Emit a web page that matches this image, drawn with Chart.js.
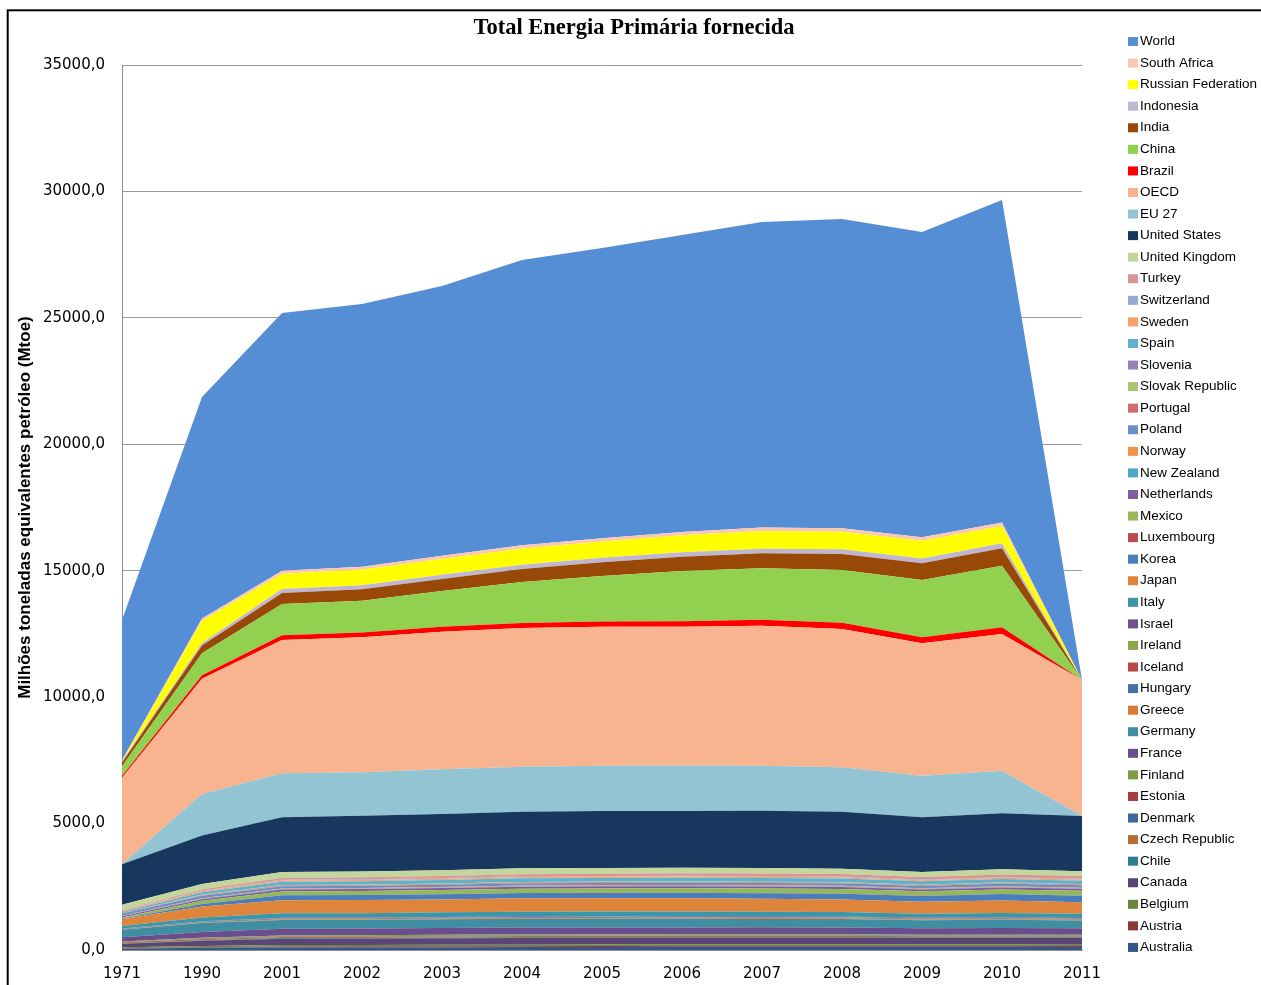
<!DOCTYPE html>
<html lang="pt">
<head>
<meta charset="utf-8">
<title>Total Energia Primária fornecida</title>
<script src="https://cdn.jsdelivr.net/npm/chart.js@4.4.1/dist/chart.umd.min.js"></script>
<style>
  html, body { margin: 0; padding: 0; background: #ffffff; }
  #wrap { width: 1261px; height: 985px; overflow: hidden; }
  canvas { display: block; }
</style>
</head>
<body>
<div id="wrap"><canvas id="chart" width="1261" height="985"></canvas></div>
<script>
// Years on the category axis
const years = ['1971', '1990', '2001', '2002', '2003', '2004', '2005', '2006', '2007', '2008', '2009', '2010', '2011'];

// Total primary energy supply, Mtoe (stacked from Australia upwards)
const australia        = [52, 87, 111, 113, 113, 116, 122, 124, 125, 128, 131, 125, 122];
const austria          = [18, 25, 31, 31, 33, 33, 34, 34, 33, 33, 32, 34, 33];
const belgium          = [39, 48, 58, 56, 59, 59, 58, 57, 57, 59, 57, 61, 57];
const canada           = [140, 209, 248, 253, 262, 269, 271, 268, 273, 267, 254, 252, 258];
const chile            = [8, 14, 25, 26, 26, 28, 29, 30, 30, 30, 29, 30, 33];
const czechRepublic    = [45, 50, 42, 42, 45, 45, 45, 46, 46, 45, 42, 44, 43];
const denmark          = [19, 18, 20, 20, 20, 20, 19, 21, 20, 19, 19, 20, 18];
const estonia          = [0, 10, 5, 5, 5, 5, 5, 5, 6, 5, 5, 6, 6];
const finland          = [17, 28, 33, 35, 37, 37, 34, 37, 37, 35, 33, 36, 34];
const france           = [162, 224, 265, 265, 270, 274, 275, 271, 268, 270, 257, 264, 253];
const germany          = [305, 351, 350, 345, 345, 348, 343, 349, 335, 336, 318, 328, 312];
const greece           = [9, 22, 29, 29, 30, 31, 31, 31, 31, 31, 29, 27, 26];
const hungary          = [19, 29, 25, 26, 26, 26, 28, 27, 27, 27, 25, 25, 24];
const iceland          = [1, 2, 3, 3, 3, 4, 4, 4, 5, 5, 5, 5, 6];
const ireland          = [7, 10, 15, 15, 15, 15, 15, 15, 16, 15, 14, 14, 13];
const israel           = [6, 11, 20, 20, 21, 20, 20, 21, 22, 23, 22, 23, 23];
const italy            = [105, 147, 172, 172, 180, 182, 185, 183, 179, 176, 165, 170, 168];
const japan            = [268, 439, 519, 518, 511, 530, 530, 527, 514, 495, 472, 497, 461];
const korea            = [17, 93, 191, 201, 205, 210, 210, 214, 222, 227, 229, 250, 260];
const luxembourg       = [4, 3, 4, 4, 4, 5, 5, 5, 4, 4, 4, 4, 4];
const mexico           = [43, 124, 149, 153, 159, 167, 174, 178, 182, 182, 177, 178, 187];
const netherlands      = [51, 66, 76, 77, 79, 81, 81, 78, 80, 80, 78, 83, 77];
const newZealand       = [8, 13, 17, 17, 17, 17, 17, 17, 17, 17, 17, 18, 18];
const norway           = [14, 21, 26, 25, 27, 27, 27, 26, 27, 29, 28, 32, 28];
const poland           = [86, 103, 90, 89, 91, 92, 92, 97, 97, 98, 94, 101, 101];
const portugal         = [6, 17, 24, 25, 25, 26, 26, 25, 25, 24, 24, 23, 23];
const slovakRepublic   = [14, 21, 19, 19, 18, 18, 19, 19, 18, 18, 17, 18, 17];
const slovenia         = [0, 6, 7, 7, 7, 7, 7, 7, 7, 8, 7, 7, 7];
const spain            = [43, 91, 127, 131, 136, 142, 145, 144, 147, 142, 130, 128, 128];
const sweden           = [36, 47, 51, 51, 51, 53, 52, 51, 50, 49, 45, 51, 50];
const switzerland      = [17, 25, 27, 27, 27, 27, 27, 28, 26, 27, 27, 26, 25];
const turkey           = [19, 53, 72, 75, 80, 84, 85, 94, 101, 99, 98, 106, 112];
const unitedKingdom    = [212, 206, 233, 227, 229, 231, 228, 222, 215, 209, 197, 203, 188];
const unitedStates     = [1600, 1915, 2166, 2210, 2224, 2241, 2254, 2242, 2268, 2258, 2166, 2216, 2185];
const eu27             = [0, 1642, 1738, 1715, 1766, 1780, 1793, 1803, 1780, 1755, 1646, 1686, 0];
const oecd             = [3420, 4560, 5272, 5340, 5444, 5480, 5490, 5480, 5536, 5470, 5235, 5406, 5378];
const brazil           = [70, 140, 185, 190, 195, 205, 210, 220, 235, 245, 245, 265, 0];
const china            = [390, 863, 1239, 1259, 1412, 1618, 1800, 1990, 2033, 2087, 2259, 2438, 0];
const india            = [150, 305, 435, 450, 480, 510, 540, 565, 593, 633, 660, 685, 0];
const indonesia        = [35, 100, 155, 160, 165, 175, 180, 180, 185, 190, 195, 205, 0];
const russianFederation= [0, 880, 610, 620, 620, 640, 650, 670, 698, 692, 699, 678, 0];
const southAfrica      = [50, 90, 110, 115, 125, 130, 128, 130, 135, 140, 135, 137, 0];
const world            = [5545, 8762, 10196, 10389, 10673, 11282, 11472, 11745, 12085, 12228, 12079, 12755, 0];

// Value-axis ticks
const yTicks = [0, 5000, 10000, 15000, 20000, 25000, 30000, 35000];

// Series in stacking order (bottom first): [label, values, colour]
const series = [
  ['Australia', australia, '#34568A'],
  ['Austria', austria, '#8C3836'],
  ['Belgium', belgium, '#6B853C'],
  ['Canada', canada, '#5B4577'],
  ['Chile', chile, '#2F7E8F'],
  ['Czech Republic', czechRepublic, '#B76E30'],
  ['Denmark', denmark, '#3D689D'],
  ['Estonia', estonia, '#A43F3D'],
  ['Finland', finland, '#7E9C45'],
  ['France', france, '#6A4D8C'],
  ['Germany', germany, '#3F8EA2'],
  ['Greece', greece, '#D97B35'],
  ['Hungary', hungary, '#4572A7'],
  ['Iceland', iceland, '#B8474A'],
  ['Ireland', ireland, '#88A64A'],
  ['Israel', israel, '#6E528F'],
  ['Italy', italy, '#3A97AA'],
  ['Japan', japan, '#DF843B'],
  ['Korea', korea, '#4A7EBB'],
  ['Luxembourg', luxembourg, '#BB4B4A'],
  ['Mexico', mexico, '#95B858'],
  ['Netherlands', netherlands, '#7D5EA1'],
  ['New Zealand', newZealand, '#4BA9C5'],
  ['Norway', norway, '#F0934B'],
  ['Poland', poland, '#6D8FC8'],
  ['Portugal', portugal, '#D06D6C'],
  ['Slovak Republic', slovakRepublic, '#A9C46F'],
  ['Slovenia', slovenia, '#9A80B9'],
  ['Spain', spain, '#5DB3CC'],
  ['Sweden', sweden, '#F9A066'],
  ['Switzerland', switzerland, '#95A9D3'],
  ['Turkey', turkey, '#D99594'],
  ['United Kingdom', unitedKingdom, '#C3D69B'],
  ['United States', unitedStates, '#17375E'],
  ['EU 27', eu27, '#93C4D4'],
  ['OECD', oecd, '#F8B48F'],
  ['Brazil', brazil, '#FF0000'],
  ['China', china, '#92D050'],
  ['India', india, '#984807'],
  ['Indonesia', indonesia, '#BFB6D1'],
  ['Russian Federation', russianFederation, '#FFFF00'],
  ['South Africa', southAfrica, '#FAC8B4'],
  ['World', world, '#558ED5']
];

const datasets = series.map(([label, values, colour], i) => ({
  label: label,
  data: values,
  backgroundColor: colour,
  borderColor: colour,
  borderWidth: 0,
  pointRadius: 0,
  pointHoverRadius: 0,
  tension: 0,
  fill: i === 0 ? 'origin' : '-1'
}));

// Outer frame, white page and chart title
const framePlugin = {
  id: 'frame',
  beforeDraw(chart) {
    const ctx = chart.ctx;
    ctx.save();
    ctx.fillStyle = '#ffffff';
    ctx.fillRect(0, 0, chart.width, chart.height);
    ctx.restore();
  },
  afterDraw(chart) {
    const ctx = chart.ctx;
    ctx.save();
    ctx.strokeStyle = '#000000';
    ctx.lineWidth = 2;
    ctx.strokeRect(7.7, 10.3, 3000, 3000);
    ctx.fillStyle = '#000000';
    ctx.font = "bold 22.5px 'Liberation Serif'";
    ctx.textAlign = 'center';
    ctx.textBaseline = 'alphabetic';
    ctx.fillText('Total Energia Primária fornecida', 634, 34);
    ctx.restore();
  }
};

// Legend column on the right, top item = last stacked series
const sideLegend = {
  id: 'sideLegend',
  afterDraw(chart) {
    const ctx = chart.ctx;
    const items = chart.data.datasets.slice().reverse();
    ctx.save();
    ctx.font = "13.5px 'Liberation Sans'";
    ctx.textAlign = 'left';
    ctx.textBaseline = 'middle';
    items.forEach((d, i) => {
      const y = 41.5 + i * 21.57;
      ctx.fillStyle = d.backgroundColor;
      ctx.fillRect(1128, y - 4.5, 10, 9);
      ctx.fillStyle = '#000000';
      ctx.fillText(d.label, 1140, y);
    });
    ctx.restore();
  }
};

new Chart(document.getElementById('chart'), {
  type: 'line',
  data: { labels: years, datasets: datasets },
  options: {
    responsive: false,
    devicePixelRatio: 1,
    animation: false,
    events: [],
    layout: { padding: { left: 10, top: 65, right: 179, bottom: 0 } },
    plugins: {
      legend: { display: false },
      title: { display: false },
      tooltip: { enabled: false },
      filler: { propagate: false }
    },
    scales: {
      x: {
        type: 'category',
        offset: false,
        grid: { display: false, drawTicks: false },
        border: { display: true, color: '#8c8c8c', width: 1 },
        ticks: {
          padding: 15,
          color: '#000000',
          font: { family: 'DejaVu Sans', size: 15 },
          maxRotation: 0,
          autoSkip: false
        },
        afterFit(scale) { scale.height = 35; }
      },
      y: {
        stacked: true,
        min: 0,
        max: 35000,
        afterBuildTicks(scale) { scale.ticks = yTicks.map(v => ({ value: v })); },
        grid: { color: '#9a9a9a', lineWidth: 1, drawTicks: false },
        border: { display: true, color: '#8c8c8c', width: 1 },
        ticks: {
          padding: 17,
          color: '#000000',
          font: { family: 'DejaVu Sans', size: 15 },
          callback: v => v.toFixed(1).replace('.', ',')
        },
        title: {
          display: true,
          text: 'Milhões toneladas equivalentes petróleo (Mtoe)',
          color: '#000000',
          font: { family: 'Liberation Sans', size: 17, weight: 'bold' },
          padding: { top: 5, bottom: 0 }
        },
        afterFit(scale) { scale.width = 112; }
      }
    }
  },
  plugins: [framePlugin, sideLegend]
});
</script>
</body>
</html>
